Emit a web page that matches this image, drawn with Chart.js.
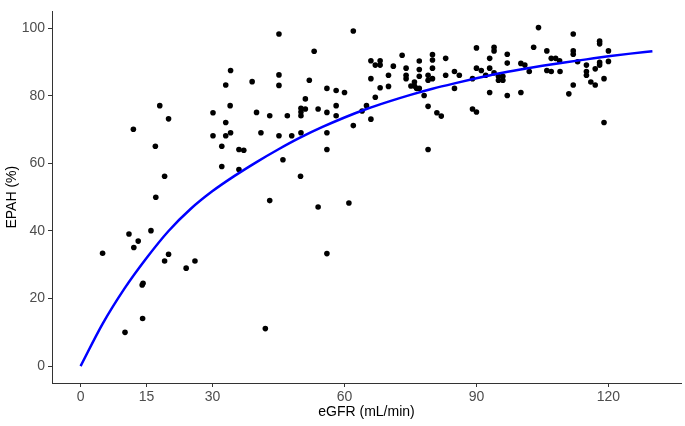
<!DOCTYPE html>
<html>
<head>
<meta charset="utf-8">
<script src="https://cdn.jsdelivr.net/npm/chart.js@4"></script>
<style>
  html, body { margin: 0; padding: 0; background: #fff; }
  #wrap { width: 685px; height: 426px; }
</style>
</head>
<body>
<div id="wrap"><canvas id="chart" width="685" height="426"></canvas></div>
<script>
const egfr = [
  18.0, 20.0, 12.0, 17.0, 19.1, 30.1, 30.1,
  17.1, 11.0, 16.0, 13.1, 12.1, 5.0, 20.0, 19.1, 26.0, 24.0, 14.0, 14.2, 14.1, 10.1,
  45.1, 62.0, 53.1, 34.1, 33.0, 39.0, 45.1, 45.1, 52.0, 34.0, 56.0, 58.1, 60.0, 51.1,
  33.0, 33.0, 34.1, 32.1, 32.1, 40.0, 43.0, 47.0, 50.1, 50.1, 50.1, 51.1, 54.0, 56.0,
  58.1, 58.1, 41.0, 45.1, 48.0, 50.1, 56.0, 62.0, 36.0, 37.1, 56.0, 46.0, 36.0, 50.0,
  43.0, 54.0, 61.0, 56.0, 42.0,
  64.0, 65.0, 66.0, 66.0, 66.0, 67.0, 68.1, 68.1, 67.0, 68.1, 70.0, 70.0, 71.1, 73.1,
  74.0, 74.0, 74.0, 75.1, 75.9, 75.9, 76.4, 77.0, 77.0, 77.0, 77.0, 78.1, 79.0, 79.0,
  80.0, 80.0, 80.0, 80.0, 79.0, 79.0, 81.0, 82.0, 83.0, 83.0, 85.0, 86.1, 85.0, 89.1,
  89.1, 90.0, 90.0, 90.0, 91.1, 92.1, 93.0, 93.0, 93.0, 94.0, 94.0, 94.0, 95.0, 96.0,
  95.0, 96.0,
  97.0, 97.0, 97.0, 100.1, 101.0, 100.1, 102.0, 103.0, 104.1, 106.0, 106.0, 107.0,
  107.0, 108.0, 108.9, 109.0, 111.0, 112.0, 112.0, 112.0, 112.0, 113.0, 115.0, 115.0,
  115.0, 116.0, 117.0, 117.0, 118.0, 118.0, 118.0, 118.0, 119.0, 119.0, 120.0, 120.0
];
const epah = [
  77.1, 73.2, 70.1, 65.1, 56.2, 75.0, 68.2,
  50.0, 39.1, 40.1, 37.0, 35.1, 33.4, 33.1, 31.1, 31.1, 29.0, 24.0, 24.5, 14.1, 10.0,
  98.3, 99.2, 93.2, 87.5, 83.2, 84.2, 86.2, 83.1, 84.6, 77.1, 82.2, 81.6, 81.0, 79.1,
  72.1, 68.2, 69.1, 65.1, 59.1, 75.1, 74.1, 74.1, 76.3, 75.2, 74.1, 76.1, 76.1, 75.1,
  77.1, 74.1, 69.1, 68.2, 68.2, 69.1, 69.1, 71.2, 64.1, 63.9, 64.1, 61.1, 58.2, 56.2,
  49.0, 47.1, 48.3, 33.3, 11.1,
  75.5, 77.1, 73.1, 85.1, 90.4, 89.1, 89.1, 90.4, 79.6, 82.4, 86.1, 82.8, 88.8, 92.0,
  88.2, 86.1, 85.1, 82.9, 82.9, 84.1, 82.2, 90.3, 87.8, 85.8, 82.2, 80.1, 86.1, 84.6,
  85.1, 92.2, 90.6, 88.2, 76.9, 64.1, 75.0, 74.0, 91.1, 86.1, 87.2, 86.1, 82.2, 85.1,
  76.1, 75.2, 94.2, 88.2, 87.5, 86.1, 91.1, 88.2, 81.0, 94.4, 93.3, 86.8, 85.8, 85.8,
  84.6, 84.6,
  92.3, 89.7, 80.1, 89.6, 89.1, 81.0, 87.2, 94.4, 100.2, 93.3, 87.5, 87.2,
  91.1, 91.1, 90.4, 87.2, 80.6, 83.2, 98.3, 93.3, 92.3, 90.1, 89.1, 87.2,
  86.1, 84.1, 88.0, 83.2, 96.2, 95.4, 89.9, 89.1, 85.1, 72.1, 93.3, 90.2
];

// fitted curve at every 5 mL/min
const fitEgfr = [0, 5, 10, 15, 20, 25, 30, 35, 40, 45, 50, 55, 60, 65,
                 70, 75, 80, 85, 90, 95, 100, 105, 110, 115, 120, 125, 130];
const fitEpah = [0, 12.5, 23, 32, 40, 46.5, 51.8, 56.3, 60.4, 64.2, 67.7, 70.8, 73.6, 76.1,
                 78.3, 80.3, 82.1, 83.7, 85.2, 86.6, 87.8, 88.9, 89.9, 90.8, 91.7, 92.5, 93.2];

const xTicks = [0, 15, 30, 60, 90, 120];
const yTicks = [0, 20, 40, 60, 80, 100];

const points = egfr.map((x, i) => ({ x: x, y: epah[i] }));
const curve = fitEgfr.map((x, i) => ({ x: x, y: fitEpah[i] }));

const tickFont = { family: 'Liberation Sans, Arial, sans-serif', size: 14 };
const titleFont = { family: 'Liberation Sans, Arial, sans-serif', size: 14 };

new Chart(document.getElementById('chart').getContext('2d'), {
    type: 'scatter',
    data: {
        datasets: [
            {
                label: 'fit',
                data: curve,
                showLine: true,
                borderColor: '#0000ff',
                borderWidth: 2.5,
                pointRadius: 0,
                cubicInterpolationMode: 'monotone',
                fill: false,
                order: 0
            },
            {
                label: 'EPAH',
                data: points,
                backgroundColor: '#000000',
                borderColor: '#000000',
                borderWidth: 0,
                pointRadius: 2.8,
                order: 1
            }
        ]
    },
    options: {
        responsive: false,
        animation: false,
        layout: { padding: { top: 3, right: 2, left: 0, bottom: 0 } },
        plugins: {
            legend: { display: false },
            tooltip: { enabled: false }
        },
        scales: {
            x: {
                type: 'linear',
                min: -6.5,
                max: 136.5,
                afterBuildTicks: (scale) => { scale.ticks = xTicks.map(v => ({ value: v })); },
                afterFit: (scale) => { scale.height = 43; },
                grid: { drawOnChartArea: false, drawTicks: true, tickLength: 4, color: '#333333' },
                border: { display: true, color: '#333333', width: 1 },
                ticks: { color: '#4d4d4d', font: tickFont, padding: 2, maxRotation: 0 },
                title: { display: true, text: 'eGFR (mL/min)', color: '#000000', font: titleFont, padding: { top: 0, bottom: 5 } }
            },
            y: {
                type: 'linear',
                min: -5,
                max: 105,
                afterBuildTicks: (scale) => { scale.ticks = yTicks.map(v => ({ value: v })); },
                afterFit: (scale) => { scale.width = 52; },
                grid: { drawOnChartArea: false, drawTicks: true, tickLength: 4, color: '#333333' },
                border: { display: true, color: '#333333', width: 1 },
                ticks: { color: '#4d4d4d', font: tickFont, padding: 3 },
                title: { display: true, text: 'EPAH (%)', color: '#000000', font: titleFont, padding: { top: 4, bottom: 0 } }
            }
        }
    }
});
</script>
</body>
</html>
